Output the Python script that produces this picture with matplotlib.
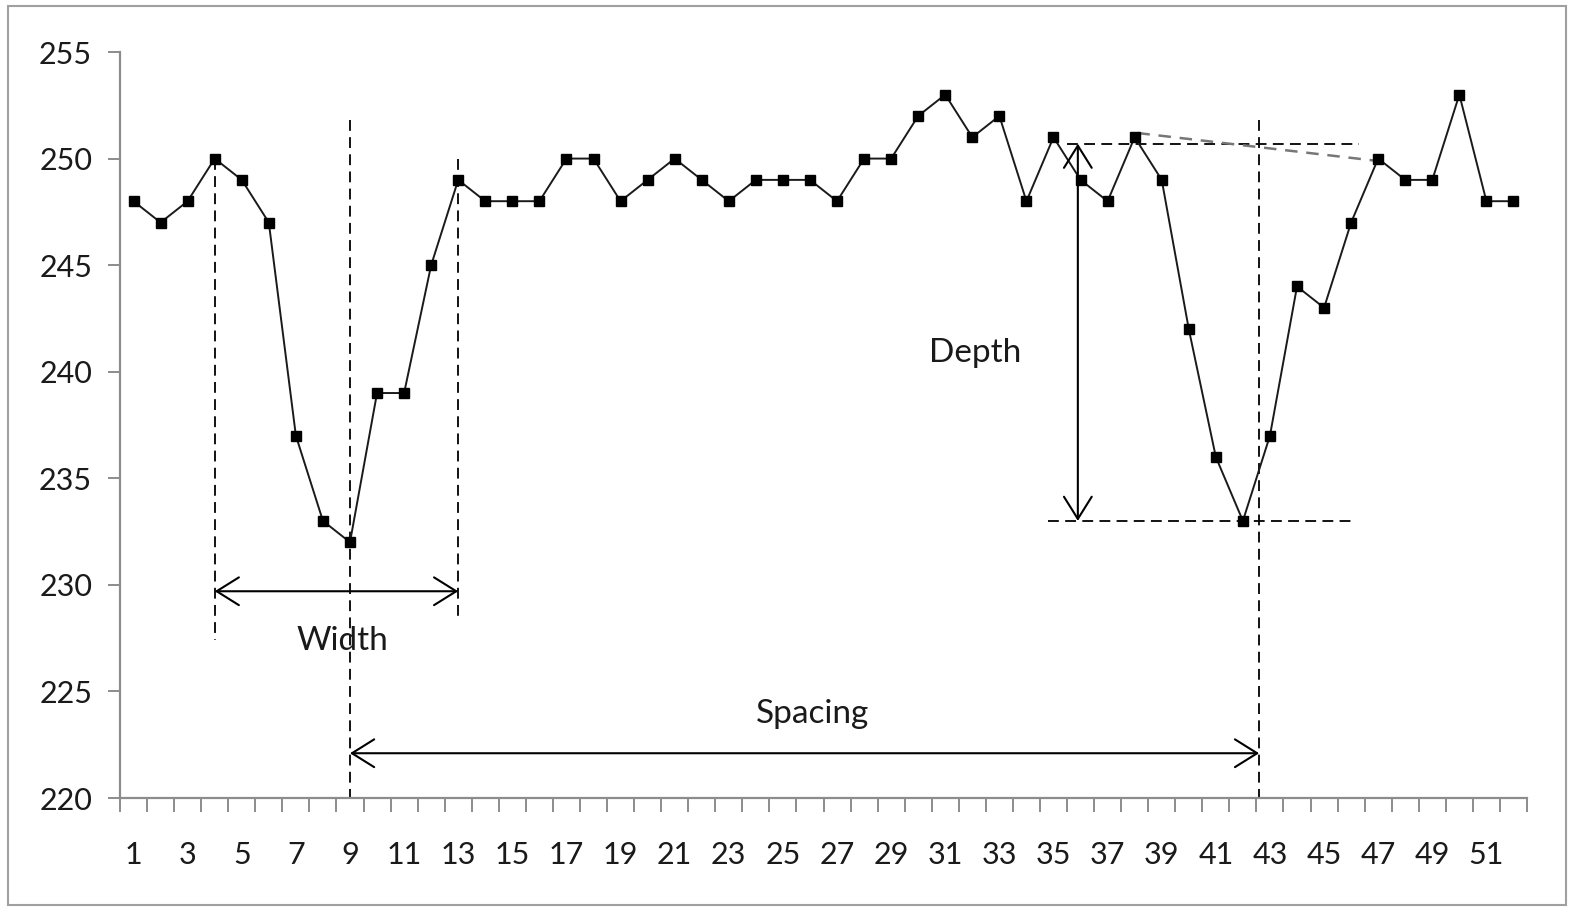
import matplotlib
matplotlib.use("Agg")
import matplotlib.pyplot as plt
from matplotlib.patches import Rectangle

# Signal samples (one value per position)
positions = list(range(1, 53))
values = [248, 247, 248, 250, 249, 247, 237, 233, 232, 239,
          239, 245, 249, 248, 248, 248, 250, 250, 248, 249,
          250, 249, 248, 249, 249, 249, 248, 250, 250, 252,
          253, 251, 252, 248, 251, 249, 248, 251, 249, 242,
          236, 233, 237, 244, 243, 247, 250, 249, 249, 253,
          248, 248]
ytick_values = [220, 225, 230, 235, 240, 245, 250, 255]
xtick_labels = [str(i) for i in range(1, 52, 2)]

# Feature annotations
width_start, width_end, width_level = 4, 13, 229.7
spacing_start, spacing_end, spacing_level = 9, 42.6, 222.1
depth_x, depth_top, depth_bottom = 35.9, 250.7, 233.0

plt.rcParams['font.family'] = ['Lato', 'DejaVu Sans']

fig = plt.figure(figsize=(15.74, 9.08), dpi=100)
fig.patches.append(Rectangle((8 / 1574, 3 / 908), 1558 / 1574, 899 / 908,
                             transform=fig.transFigure, fill=False,
                             edgecolor='#a0a0a0', linewidth=1.5))
ax = fig.add_axes([120 / 1574, 1 - 798 / 908, 1407 / 1574, 746 / 908])

ax.plot(positions, values, color='#1a1a1a', linewidth=1.4,
        marker='s', markersize=7, markerfacecolor='black',
        markeredgecolor='black', zorder=3)

ax.set_xlim(0.5, 52.5)
ax.set_ylim(220, 255)

# Axes styling
for side in ('top', 'right'):
    ax.spines[side].set_visible(False)
for side in ('left', 'bottom'):
    ax.spines[side].set_color('#8c8c8c')
    ax.spines[side].set_linewidth(1.6)

ax.set_yticks(ytick_values)
ax.set_yticklabels([str(v) for v in ytick_values], fontsize=22, color='#1a1a1a')
ax.tick_params(axis='y', direction='out', length=9, width=1.4,
               color='#8c8c8c', pad=11)

ax.set_xticks([k + 0.5 for k in range(0, 53)])
ax.set_xticklabels([])
ax.tick_params(axis='x', which='major', direction='out', length=10,
               width=1.4, color='#8c8c8c')
ax.set_xticks(list(range(1, 52, 2)), minor=True)
ax.set_xticklabels(xtick_labels, minor=True, fontsize=22, color='#1a1a1a')
ax.tick_params(axis='x', which='minor', length=0, pad=31)

dash = dict(color='black', linewidth=1.3, linestyle=(0, (6, 3.5)), zorder=2)

# Width guides
ax.plot([width_start, width_start], [250, 227.4], **dash)
ax.plot([width_end, width_end], [250, 228.3], **dash)
# Spacing guides
ax.plot([spacing_start, spacing_start], [251.8, 220], **dash)
ax.plot([spacing_end, spacing_end], [251.8, 220], **dash)
# Depth guides
ax.plot([35.5, 46.3], [depth_top, depth_top], **dash)
ax.plot([34.8, 46.0], [depth_bottom, depth_bottom], **dash)
ax.plot([38.1, 46.9], [251.2, 249.9], color='#777777', linewidth=1.8,
        linestyle=(0, (5, 3.5)), zorder=2)

arrow = dict(arrowstyle='<->,head_length=1.6,head_width=1.0',
             color='black', linewidth=1.5, shrinkA=0, shrinkB=0)
ax.annotate('', xy=(width_end, width_level), xytext=(width_start, width_level),
            arrowprops=arrow)
ax.annotate('', xy=(spacing_end, spacing_level),
            xytext=(spacing_start, spacing_level), arrowprops=arrow)
ax.annotate('', xy=(depth_x, depth_bottom), xytext=(depth_x, depth_top),
            arrowprops=arrow)

label_style = dict(fontsize=24, color='#1a1a1a', ha='center', va='center')
ax.text(8.7, 227.35, 'Width', **label_style)
ax.text(26.1, 223.95, 'Spacing', **label_style)
ax.text(32.1, 240.9, 'Depth', **label_style)

fig.savefig('out.png', dpi=100)
